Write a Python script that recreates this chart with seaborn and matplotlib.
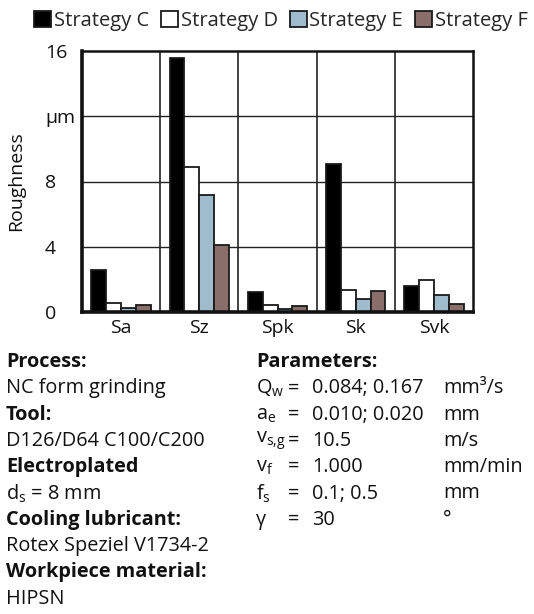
import matplotlib
matplotlib.use("Agg")
import matplotlib.pyplot as plt
import seaborn as sns
import pandas as pd

parameters = ["Sa", "Sz", "Spk", "Sk", "Svk"]
strategies = ["Strategy C", "Strategy D", "Strategy E", "Strategy F"]
strategy_c = [2.6, 15.55, 1.2, 9.1, 1.6]
strategy_d = [0.55, 8.9, 0.45, 1.33, 1.95]
strategy_e = [0.27, 7.15, 0.2, 0.78, 1.02]
strategy_f = [0.41, 4.1, 0.35, 1.27, 0.51]
colors = ["#000000", "#ffffff", "#9fbccd", "#8a6e69"]
y_ticks = [0, 4, 8, 12, 16]
y_ticklabels = ["0", "4", "8", "µm", "16"]

rows = []
for s, vals in zip(strategies, [strategy_c, strategy_d, strategy_e, strategy_f]):
    for p, v in zip(parameters, vals):
        rows.append({"param": p, "strategy": s, "value": v})
df = pd.DataFrame(rows)

sns.set_theme(style="white")
plt.rcParams["font.family"] = ["Open Sans", "DejaVu Sans"]
plt.rcParams["mathtext.default"] = "regular"

fig = plt.figure(figsize=(5.34, 6.14), dpi=100)
ax = fig.add_axes([82/534, 1-312/614, (473-82)/534, (312-51)/614])

sns.barplot(data=df, x="param", y="value", hue="strategy", order=parameters,
            hue_order=strategies, palette=colors, edgecolor="#1a1a1a",
            linewidth=1.3, width=0.76, ax=ax, legend=True, saturation=1)

ax.set_xlim(-0.5, 4.5)
ax.set_ylim(0, 16)
ax.set_yticks(y_ticks)
ax.set_yticklabels(y_ticklabels)
for y in [4, 8, 12]:
    ax.axhline(y, color="#222222", lw=1.0, zorder=0)
for x in [0.5, 1.5, 2.5, 3.5]:
    ax.axvline(x, color="#222222", lw=1.2, zorder=0)
ax.set_xlabel("")
ax.set_ylabel("Roughness", fontsize=14, color="#111111")
ax.yaxis.set_label_coords((25-82)/391, 0.5)
ax.tick_params(axis="both", length=0, labelsize=14, colors="#111111")
ax.tick_params(axis="y", pad=37*0.72)
for lbl in ax.get_yticklabels():
    lbl.set_horizontalalignment("left")
ax.tick_params(axis="x", pad=5)
for side in ["left", "bottom"]:
    ax.spines[side].set_linewidth(2.6)
    ax.spines[side].set_color("#111111")
for side in ["top", "right"]:
    ax.spines[side].set_linewidth(1.8)
    ax.spines[side].set_color("#111111")

handles, labels = ax.get_legend_handles_labels()
ax.get_legend().remove()
fig.legend(handles, labels, loc="center", bbox_to_anchor=(281/534, 1-21/614),
           ncol=4, frameon=False, fontsize=14.5, handlelength=0.85, handleheight=0.85,
           handletextpad=0.12, columnspacing=0.6, borderaxespad=0)

fs = 14.3
left_lines = [("Process:", True), ("NC form grinding", False), ("Tool:", True),
              ("D126/D64 C100/C200", False), ("Electroplated", True),
              ("d$_s$ = 8 mm", False), ("Cooling lubricant:", True),
              ("Rotex Speziel V1734-2", False), ("Workpiece material:", True),
              ("HIPSN", False)]
y0 = 362
dy = 26.3
for i, (t, b) in enumerate(left_lines):
    fig.text(6/534, 1-(y0+i*dy)/614, t, fontsize=fs, fontweight="bold" if b else "normal",
             va="center", ha="left", color="#111111")

fig.text(256/534, 1-y0/614, "Parameters:", fontsize=fs, fontweight="bold",
         va="center", ha="left", color="#111111")
param_rows = [("Q$_w$", "0.084; 0.167", "mm³/s"),
              ("a$_e$", "0.010; 0.020", "mm"),
              (r"v$_{s,\!g}$", "10.5", "m/s"),
              ("v$_f$", "1.000", "mm/min"),
              ("f$_s$", "0.1; 0.5", "mm"),
              ("γ", "30", "°")]
for i, (sym, val, unit) in enumerate(param_rows):
    yy = 1-(y0+(i+1)*dy)/614
    fig.text(256/534, yy, sym, fontsize=fs, va="center", ha="left", color="#111111")
    fig.text(288/534, yy, "=", fontsize=fs, va="center", ha="left", color="#111111")
    fig.text(312/534, yy, val, fontsize=fs, va="center", ha="left", color="#111111")
    fig.text(443/534, yy, unit, fontsize=fs, va="center", ha="left", color="#111111")

fig.savefig("out.png", dpi=100)
